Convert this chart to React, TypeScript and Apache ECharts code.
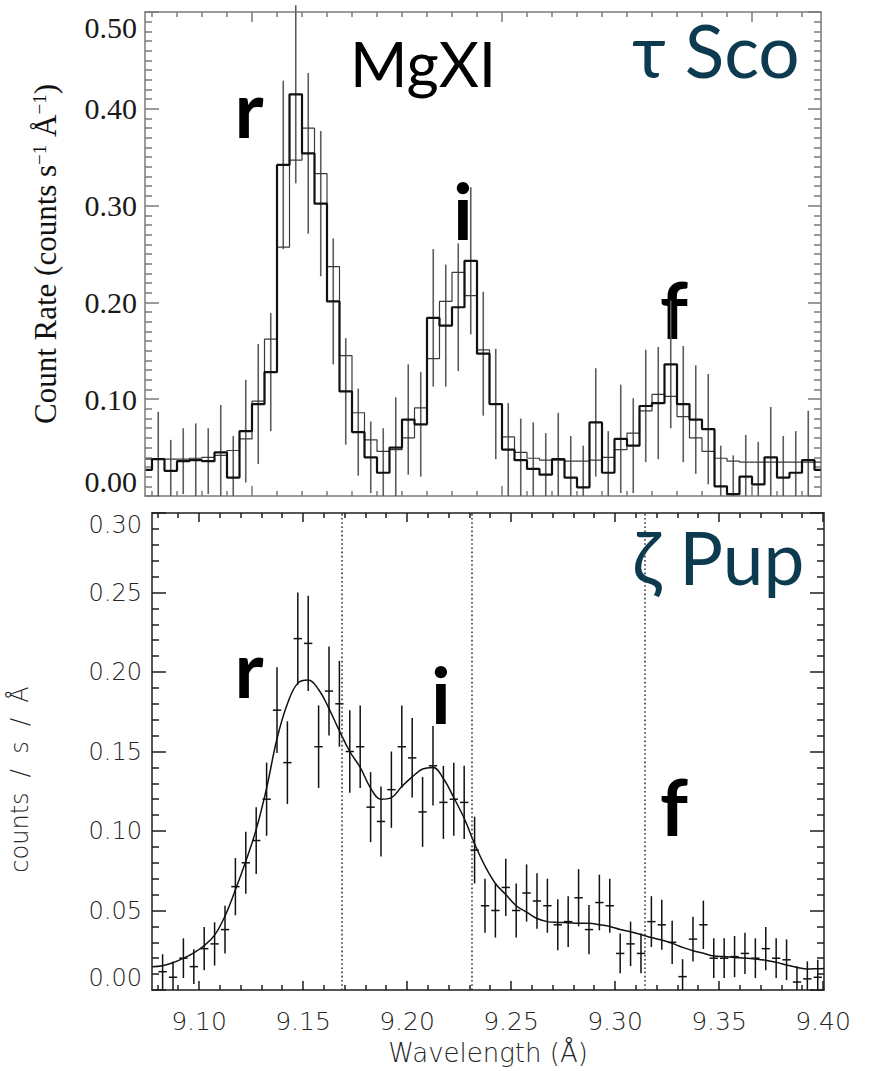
import React, { useEffect, useRef } from "react";
import * as echarts from "echarts";

// ---------- tau Sco (upper panel): Mg XI histogram, 0.005 Å bins ----------
const TAU_FIRST_BIN = 9.1075; // centre of the first (partial) bin, Å
const BIN_WIDTH = 0.005;
const TAU_X_MIN = 9.1072;
const TAU_X_MAX = 9.3776;

const tauCounts = [
  0.027, 0.038, 0.026, 0.036, 0.037, 0.036, 0.045, 0.019, 0.067, 0.095,
  0.128, 0.342, 0.415, 0.354, 0.302, 0.201, 0.108, 0.066, 0.040, 0.024,
  0.050, 0.079, 0.074, 0.184, 0.176, 0.195, 0.243, 0.147, 0.095, 0.048,
  0.037, 0.028, 0.022, 0.038, 0.019, 0.009, 0.076, 0.024, 0.059, 0.052,
  0.093, 0.096, 0.136, 0.095, 0.079, 0.069, 0.010, 0.002, 0.020, 0.012,
  0.040, 0.019, 0.024, 0.037, 0.027,
];
const tauModel = [
  0.038, 0.038, 0.038, 0.038, 0.039, 0.040, 0.042, 0.047, 0.059, 0.098,
  0.162, 0.257, 0.347, 0.380, 0.333, 0.237, 0.145, 0.086, 0.058, 0.046,
  0.048, 0.060, 0.091, 0.142, 0.201, 0.231, 0.207, 0.151, 0.095, 0.061,
  0.045, 0.039, 0.037, 0.037, 0.036, 0.036, 0.037, 0.040, 0.048, 0.065,
  0.088, 0.105, 0.103, 0.082, 0.060, 0.046, 0.039, 0.036, 0.035, 0.035,
  0.035, 0.035, 0.035, 0.035, 0.035,
];
const tauErr = [
  null, 0.049, 0.032, 0.034, 0.038, 0.034, 0.049, 0.043, 0.053, 0.062,
  0.061, 0.087, 0.092, 0.083, 0.075, 0.065, 0.055, 0.045, 0.037, 0.046,
  0.052, 0.057, 0.054, 0.071, 0.063, 0.066, 0.076, 0.064, 0.057, 0.048,
  0.043, 0.048, 0.043, 0.048, 0.043, 0.043, 0.056, 0.043, 0.056, 0.049,
  0.058, 0.058, 0.066, 0.060, 0.056, 0.057, 0.042, 0.040, 0.043, 0.044,
  0.052, 0.043, 0.043, 0.051, null,
];
const tauMajorTicks = [9.15, 9.25, 9.35];
const tauYTicks = [0, 0.1, 0.2, 0.3, 0.4, 0.5];

// ---------- zeta Pup (lower panel): binned counts with fit ----------
const ZETA_FIRST_BIN = 9.0825;
const ZETA_X_MIN = 9.0774;
const ZETA_X_MAX = 9.4005;

const zetaCounts = [
  0.0115, 0.008, 0.020, 0.0147, 0.026, 0.029, 0.038, 0.065, 0.080, 0.094,
  0.120, 0.176, 0.143, 0.221, 0.218, 0.153, 0.188, 0.180, 0.150, 0.153,
  0.115, 0.106, 0.126, 0.153, 0.146, 0.112, 0.141, 0.118, 0.120, 0.118,
  0.088, 0.053, 0.050, 0.0645, 0.050, 0.061, 0.056, 0.053, 0.041, 0.043,
  0.058, 0.038, 0.055, 0.053, 0.023, 0.029, 0.023, 0.043, 0.041, 0.030,
  0.0084, 0.032, 0.041, 0.020, 0.020, 0.021, 0.023, 0.020, 0.026, 0.020,
  0.019, 0.005, 0.007, 0.008,
];
const zetaErr = [
  0.011, 0.010, 0.0125, 0.011, 0.0136, 0.0136, 0.015, 0.018, 0.0195, 0.021,
  0.023, 0.027, 0.026, 0.029, 0.030, 0.026, 0.028, 0.027, 0.026, 0.026,
  0.022, 0.022, 0.024, 0.026, 0.025, 0.022, 0.025, 0.023, 0.023, 0.023,
  0.021, 0.017, 0.017, 0.018, 0.017, 0.018, 0.0175, 0.017, 0.016, 0.016,
  0.018, 0.0155, 0.0175, 0.017, 0.0125, 0.014, 0.0125, 0.016, 0.0157, 0.0136,
  0.011, 0.014, 0.0152, 0.0125, 0.0125, 0.013, 0.013, 0.0125, 0.0136, 0.0125,
  0.0128, 0.010, 0.011, 0.011,
];
const zetaFit = [
  0.0153, 0.0172, 0.020, 0.0234, 0.028, 0.0345, 0.0465, 0.063, 0.081, 0.101,
  0.127, 0.158, 0.180, 0.193, 0.195, 0.189, 0.177, 0.163, 0.150, 0.140,
  0.127, 0.120, 0.121, 0.128, 0.134, 0.139, 0.140, 0.133, 0.121, 0.108,
  0.092, 0.078, 0.067, 0.060, 0.053, 0.049, 0.045, 0.043, 0.0425, 0.0423,
  0.042, 0.042, 0.041, 0.040, 0.038, 0.0366, 0.0349, 0.033, 0.0314, 0.0293,
  0.0268, 0.0247, 0.0231, 0.0214, 0.021, 0.0205, 0.0201, 0.0195, 0.0187, 0.0174,
  0.0157, 0.0142, 0.0132, 0.0134,
];
const zetaFitLeftEdge = [9.0774, 0.0147];
const zetaFitRightEdge = [9.4005, 0.0135];
const zetaTickLabels = [9.1, 9.15, 9.2, 9.25, 9.3, 9.35, 9.4];

// Mg XI resonance, intercombination and forbidden line positions (Å)
const lineNames = ["r", "i", "f"];
const lineWavelengths = [9.1687, 9.2312, 9.3143];

const TAU_FRAME = "#7a7a7a";
const ZETA_FRAME = "#1e1e1e";
const STAR_COLOR = "#0c3b4f";
const GILL = 'Lato, "Open Sans", "DejaVu Sans", sans-serif';
const SANS_LIGHT = '"DejaVu Sans", sans-serif';
const LIGHT_TEXT = "#262626";

function minorValues(from: number, to: number, step: number, skip: number[]) {
  const out: number[] = [];
  for (let v = from; v <= to + 1e-9; v += step) {
    const r = Math.round(v * 1000) / 1000;
    if (!skip.some((s) => Math.abs(s - r) < 1e-6)) out.push(r);
  }
  return out;
}

function xAxisFor(
  gridIndex: number,
  position: "top" | "bottom",
  min: number,
  max: number,
  ticks: number[],
  len: number,
  color: string,
  showLine: boolean,
  extra: any = {}
) {
  return {
    type: "value",
    gridIndex,
    position,
    min,
    max,
    axisLine: { show: showLine, onZero: false, lineStyle: { color, width: 1.5 } },
    axisTick: {
      show: true,
      inside: true,
      length: len,
      customValues: ticks,
      lineStyle: { color, width: 1.5 },
    },
    axisLabel: { show: false },
    splitLine: { show: false },
    ...extra,
  };
}

export default function App() {
  const ref = useRef<HTMLDivElement>(null);

  useEffect(() => {
    if (!ref.current) return;
    const chart = echarts.init(ref.current, null, { renderer: "svg" });

    const tauMinor = minorValues(9.11, 9.37, 0.01, tauMajorTicks);
    const zetaMinor = minorValues(9.08, 9.4, 0.01, zetaTickLabels);

    const tauCentres = tauCounts.map((_, j) => TAU_FIRST_BIN + j * BIN_WIDTH);
    const zetaCentres = zetaCounts.map((_, k) => ZETA_FIRST_BIN + k * BIN_WIDTH);

    const tauBars = tauCounts
      .map((v, j) =>
        tauErr[j] == null ? null : [tauCentres[j], Math.max(0, v - (tauErr[j] as number)), v + (tauErr[j] as number)]
      )
      .filter((d) => d !== null);

    const zetaCrosses = zetaCounts.map((v, k) => [
      zetaCentres[k],
      v,
      Math.max(0, v - zetaErr[k]),
      v + zetaErr[k],
    ]);

    const fitPoints = [
      zetaFitLeftEdge,
      ...zetaFit.map((v, k) => [zetaCentres[k], v]),
      zetaFitRightEdge,
    ];

    const letter = (text: string, x: number, y: number) => ({
      type: "text",
      x,
      y,
      style: {
        text,
        fontFamily: GILL,
        fontWeight: "bold",
        fontSize: 78,
        fill: "#000",
        textAlign: "center",
        textVerticalAlign: "middle",
      },
    });

    const option: any = {
      animation: false,
      backgroundColor: "#ffffff",
      grid: [
        { left: 145, top: 12, width: 676, height: 484 },
        { left: 152, top: 513, width: 672, height: 477 },
      ],
      xAxis: [
        xAxisFor(0, "bottom", TAU_X_MIN, TAU_X_MAX, tauMajorTicks, 10, TAU_FRAME, true),
        xAxisFor(0, "top", TAU_X_MIN, TAU_X_MAX, tauMajorTicks, 10, TAU_FRAME, true),
        xAxisFor(0, "bottom", TAU_X_MIN, TAU_X_MAX, tauMinor, 5, TAU_FRAME, false),
        xAxisFor(0, "top", TAU_X_MIN, TAU_X_MAX, tauMinor, 5, TAU_FRAME, false),
        xAxisFor(1, "bottom", ZETA_X_MIN, ZETA_X_MAX, zetaTickLabels, 9, ZETA_FRAME, true, {
          axisLabel: {
            show: true,
            customValues: zetaTickLabels,
            formatter: (v: number) => v.toFixed(2),
            fontFamily: SANS_LIGHT,
            fontWeight: 200,
            fontSize: 25,
            color: LIGHT_TEXT,
            margin: 19,
          },
          name: "Wavelength (Å)",
          nameLocation: "middle",
          nameGap: 50,
          nameTextStyle: { fontFamily: SANS_LIGHT, fontWeight: 200, fontSize: 26, color: LIGHT_TEXT },
        }),
        xAxisFor(1, "top", ZETA_X_MIN, ZETA_X_MAX, zetaTickLabels, 9, ZETA_FRAME, true),
        xAxisFor(1, "bottom", ZETA_X_MIN, ZETA_X_MAX, zetaMinor, 5, ZETA_FRAME, false),
        xAxisFor(1, "top", ZETA_X_MIN, ZETA_X_MAX, zetaMinor, 5, ZETA_FRAME, false),
      ],
      yAxis: [
        {
          type: "value",
          gridIndex: 0,
          position: "left",
          min: tauYTicks[0],
          max: tauYTicks[tauYTicks.length - 1],
          interval: 0.1,
          axisLine: { show: true, onZero: false, lineStyle: { color: TAU_FRAME, width: 1.5 } },
          axisTick: { inside: true, length: 14, lineStyle: { color: TAU_FRAME, width: 1.5 } },
          minorTick: { show: true, splitNumber: 10, length: 7, lineStyle: { color: TAU_FRAME, width: 1.5 } },
          splitLine: { show: false },
          axisLabel: {
            formatter: (v: number) => v.toFixed(2),
            fontFamily: '"Liberation Serif", serif',
            fontSize: 30,
            color: "#1a1a1a",
            margin: 8,
            verticalAlignMaxLabel: "top",
            verticalAlignMinLabel: "bottom",
          },
          name: "Count Rate (counts s{sup|−1} Å{sup|−1})",
          nameLocation: "middle",
          nameRotate: 90,
          nameGap: 84,
          nameTextStyle: {
            fontFamily: '"Liberation Serif", serif',
            fontSize: 31,
            color: "#111111",
            rich: {
              sup: {
                fontFamily: '"Liberation Serif", serif',
                fontSize: 19,
                color: "#111111",
                verticalAlign: "top",
              },
            },
          },
        },
        {
          type: "value",
          gridIndex: 0,
          position: "right",
          min: 0,
          max: 0.5,
          interval: 0.1,
          axisLine: { show: true, onZero: false, lineStyle: { color: TAU_FRAME, width: 1.5 } },
          axisTick: { inside: true, length: 13, lineStyle: { color: TAU_FRAME, width: 1.5 } },
          minorTick: { show: true, splitNumber: 10, length: 7, lineStyle: { color: TAU_FRAME, width: 1.5 } },
          splitLine: { show: false },
          axisLabel: { show: false },
        },
        {
          type: "value",
          gridIndex: 1,
          position: "left",
          min: 0,
          max: 0.3,
          interval: 0.05,
          axisLine: { show: true, onZero: false, lineStyle: { color: ZETA_FRAME, width: 1.5 } },
          axisTick: { inside: true, length: 14, lineStyle: { color: ZETA_FRAME, width: 1.5 } },
          minorTick: { show: true, splitNumber: 5, length: 7, lineStyle: { color: ZETA_FRAME, width: 1.5 } },
          splitLine: { show: false },
          axisLabel: {
            formatter: (v: number) => v.toFixed(2),
            fontFamily: SANS_LIGHT,
            fontWeight: 200,
            fontSize: 24,
            color: LIGHT_TEXT,
            margin: 10,
            verticalAlignMaxLabel: "top",
            verticalAlignMinLabel: "bottom",
          },
          name: "counts  /  s  /  Å",
          nameLocation: "middle",
          nameRotate: 90,
          nameGap: 120,
          nameTextStyle: {
            fontFamily: SANS_LIGHT,
            fontWeight: 200,
            fontSize: 24,
            color: LIGHT_TEXT,
            padding: [0, 56, 0, 0],
          },
        },
        {
          type: "value",
          gridIndex: 1,
          position: "right",
          min: 0,
          max: 0.3,
          interval: 0.05,
          axisLine: { show: true, onZero: false, lineStyle: { color: ZETA_FRAME, width: 1.5 } },
          axisTick: { inside: true, length: 14, lineStyle: { color: ZETA_FRAME, width: 1.5 } },
          minorTick: { show: true, splitNumber: 5, length: 7, lineStyle: { color: ZETA_FRAME, width: 1.5 } },
          splitLine: { show: false },
          axisLabel: { show: false },
        },
      ],
      series: [
        {
          name: "tau Sco model",
          type: "line",
          xAxisIndex: 0,
          yAxisIndex: 0,
          step: "middle",
          symbol: "none",
          data: tauModel.map((v, j) => [tauCentres[j], v]),
          lineStyle: { color: "#3a3a3a", width: 1.2 },
          z: 3,
        },
        {
          name: "tau Sco counts",
          type: "line",
          xAxisIndex: 0,
          yAxisIndex: 0,
          step: "middle",
          symbol: "none",
          data: tauCounts.map((v, j) => [tauCentres[j], v]),
          lineStyle: { color: "#111111", width: 2.2 },
          z: 4,
        },
        {
          name: "tau Sco errors",
          type: "custom",
          xAxisIndex: 0,
          yAxisIndex: 0,
          clip: false,
          data: tauBars,
          encode: { x: 0, y: [1, 2] },
          renderItem: (_p: any, api: any) => {
            const a = api.coord([api.value(0), api.value(1)]);
            const b = api.coord([api.value(0), api.value(2)]);
            return {
              type: "line",
              shape: { x1: a[0], y1: a[1], x2: b[0], y2: b[1] },
              style: { stroke: "#5c5c5c", lineWidth: 1.6 },
            };
          },
          z: 2,
        },
        {
          name: "zeta Pup fit",
          type: "line",
          xAxisIndex: 4,
          yAxisIndex: 2,
          smooth: 0.4,
          symbol: "none",
          data: fitPoints,
          lineStyle: { color: "#111111", width: 1.5 },
          markLine: {
            silent: true,
            symbol: "none",
            precision: 4,
            label: { show: false },
            lineStyle: { color: "#3a3a3a", width: 1.6, type: [1.6, 2.6] },
            data: lineWavelengths.map((w) => ({ xAxis: w })),
          },
          z: 3,
        },
        {
          name: "zeta Pup counts",
          type: "custom",
          xAxisIndex: 4,
          yAxisIndex: 2,
          clip: true,
          data: zetaCrosses,
          encode: { x: 0, y: [1, 2, 3] },
          renderItem: (_p: any, api: any) => {
            const x = api.value(0);
            const v = api.value(1);
            const left = api.coord([x - 0.002, v]);
            const right = api.coord([x + 0.002, v]);
            const lo = api.coord([x, api.value(2)]);
            const hi = api.coord([x, api.value(3)]);
            const style = { stroke: "#111111", lineWidth: 1.5 };
            return {
              type: "group",
              children: [
                { type: "line", shape: { x1: left[0], y1: left[1], x2: right[0], y2: right[1] }, style },
                { type: "line", shape: { x1: lo[0], y1: lo[1], x2: hi[0], y2: hi[1] }, style },
              ],
            };
          },
          z: 4,
        },
      ],
      graphic: [
        {
          type: "text",
          x: 350,
          y: 63,
          style: { text: "MgXI", fontFamily: GILL, fontSize: 62, fill: "#000000", textAlign: "left", textVerticalAlign: "middle" },
        },
        {
          type: "text",
          x: 632,
          y: 50,
          style: { text: "τ Sco", fontFamily: GILL, fontSize: 73, fill: STAR_COLOR, textAlign: "left", textVerticalAlign: "middle" },
        },
        {
          type: "text",
          x: 632,
          y: 557,
          style: { text: "ζ Pup", fontFamily: GILL, fontSize: 73, fill: STAR_COLOR, textAlign: "left", textVerticalAlign: "middle" },
        },
        // r / i / f labels, upper panel
        letter(lineNames[0], 249, 108),
        letter(lineNames[1], 463, 210),
        letter(lineNames[2], 674, 309),
        // r / i / f labels, lower panel
        letter(lineNames[0], 249, 668),
        letter(lineNames[1], 441, 694),
        letter(lineNames[2], 674, 806),
      ],
    };

    chart.setOption(option);
    return () => chart.dispose();
  }, []);

  return (
    <div
      ref={ref}
      style={{ position: "absolute", left: 0, top: 0, width: 869, height: 1071, background: "#fff" }}
    />
  );
}
